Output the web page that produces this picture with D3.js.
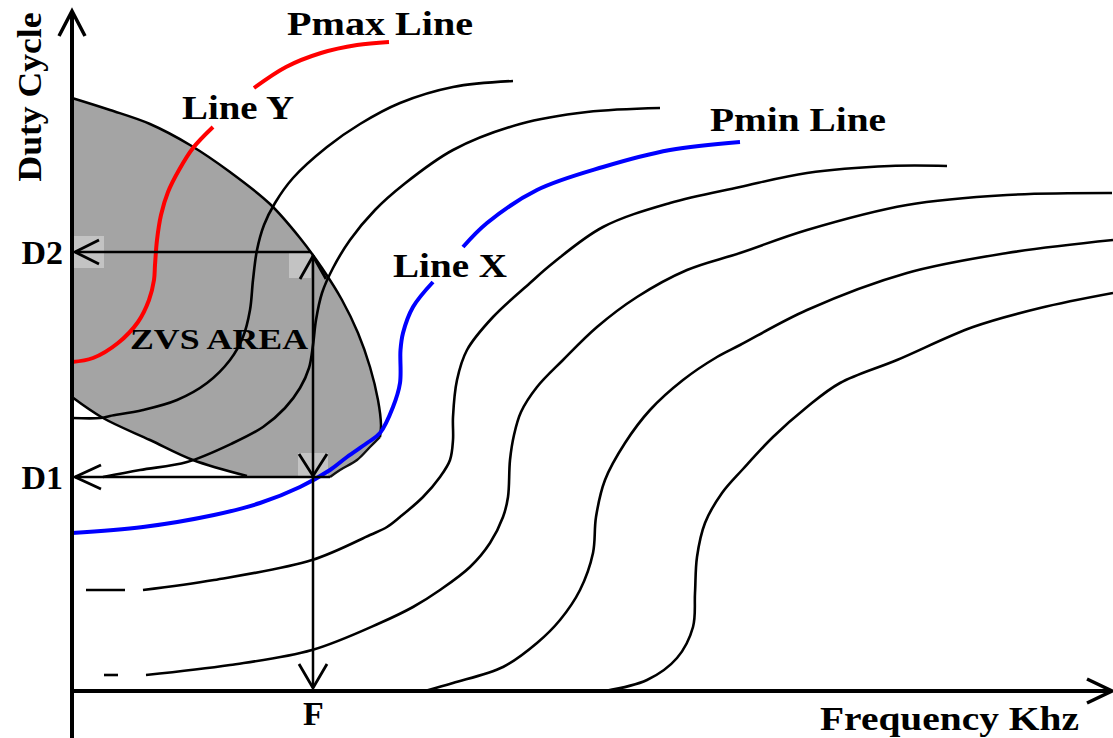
<!DOCTYPE html>
<html><head><meta charset="utf-8">
<script src="https://cdn.jsdelivr.net/npm/d3@7"></script>
<style>
body{margin:0;background:#fff}
svg{display:block}
.lbl{font-family:"Liberation Serif","Times New Roman",serif;font-weight:bold;fill:#000}
</style>
</head><body>
<svg id="c" width="1113" height="738"></svg>
<script>
// ---------- data (frequency units, duty units) ----------
const pmaxLower = [[0,32.9],[2.1,33.3],[4.6,34.8],[6.6,36.9],[7.7,39.1],[8.2,41.1],[8.3,42.6],[8.5,45.1],[8.9,47.6],[9.6,49.9],[10.7,52.1],[12.1,54.3],[14.1,56.4]];
const pmaxUpper = [[18.2,60.3],[21.4,62.4],[24.9,63.8],[28.5,64.6],[31.7,64.9]];

const pminLower = [[0,15.8],[7.1,16.4],[14.2,17.6],[18.8,18.8],[22.8,20.4],[25.8,22.1],[27.5,23.4],[29.5,24.8],[30.8,25.8],[32.1,28.4],[32.8,30.8],[32.85,34.1],[33.1,35.8],[34.1,38.4],[36.1,40.9]];
const pminUpper = [[39.1,44.4],[41.5,46.8],[46.5,50.1],[53.1,52.4],[59.8,54.1],[66.8,54.9]];

const curve1 = [[0,27.3],[2.8,27.3],[3.8,27.5],[7.1,28.1],[10.5,29.1],[13.5,30.8],[15.8,33.1],[17.1,35.4],[17.8,38.1],[18.1,41.1],[18.5,44.1],[19.2,46.6],[20.3,48.8],[22.1,51.3],[25.5,54.4],[28.8,56.7],[32.8,58.8],[38.1,60.4],[44.1,61.0]];
const curve2 = [[3.1,21.4],[6.8,22.1],[11.5,22.9],[16.1,24.8],[19.1,26.4],[21.3,28.3],[22.8,30.3],[23.7,32.3],[24.1,34.6],[24.4,37.1],[25.0,39.8],[26.1,42.3],[27.8,45.1],[30.3,48.1],[33.1,50.6],[38.1,54.1],[44.8,56.7],[51.5,57.9],[58.8,58.3]];
const curve3Stub = [[1.4,10.1],[5.3,10.1]];
const curve3 = [[7.1,10.1],[14.2,11.1],[24.0,13.1],[29.8,15.6],[31.5,16.4],[32.8,17.4],[35.1,19.4],[36.8,21.4],[37.8,23.1],[38.1,25.1],[38.1,27.4],[38.5,31.1],[39.5,34.1],[42.1,37.4],[45.8,40.8],[48.1,42.8],[53.1,46.4],[59.8,48.8],[66.8,50.4],[73.5,51.8],[81.8,52.5],[87.5,52.5]];
const curve4Stub = [[3.2,1.6],[4.6,1.6]];
const curve4 = [[7.4,1.6],[15.8,2.6],[24.0,4.1],[30.8,6.8],[34.1,8.4],[36.8,10.1],[39.8,12.4],[41.8,14.8],[43.1,17.4],[43.6,19.4],[43.8,23.1],[44.2,25.6],[44.9,27.9],[46.5,30.4],[49.1,33.1],[52.5,36.4],[56.5,39.4],[61.5,42.1],[66.8,43.8],[73.5,46.1],[83.5,48.6],[93.5,49.6],[104,49.8]];
const curve5 = [[35.3,0],[38.1,0.8],[43.1,2.4],[46.5,4.8],[48.8,7.1],[50.8,10.1],[52.1,13.8],[52.4,17.4],[53.3,21.1],[55.3,24.8],[57.8,28.1],[61.1,31.1],[64.5,33.4],[66.8,34.6],[73.5,38.1],[83.5,41.8],[93.5,43.8],[104.1,45.1]];
const curve6 = [[53.3,0],[57.5,1.1],[60.5,3.3],[62.1,6.4],[62.3,9.8],[62.5,13.4],[63.3,16.8],[65.0,19.8],[67.1,22.2],[70.1,25.4],[73.5,28.4],[76.8,30.8],[82.5,33.1],[90.1,36.4],[96.8,38.3],[104.1,39.8]];

// ZVS area boundary
const zvsArc = [[0,59.3],[3.8,58.1],[7.8,56.7],[11.8,54.6],[15.8,51.9],[19.8,48.7],[22.8,45.3],[25.0,42.3],[27.0,39.1],[28.6,35.8],[29.8,32.4],[30.6,29.1],[30.9,26.6],[30.8,25.4]];
const zvsCorner = [[29.8,24.4],[28.5,23.1],[26.8,22.1],[25.8,21.4]];
const zvsDiag = [[17.5,21.5],[12.1,23.1],[7.8,25.1],[3.1,27.3],[0,29.4]];
const lightPatches = [[0.2,45.5,3.2,42.3],[21.7,43.8,23.9,41.3],[22.6,23.8,25.6,21.4]];

// operating point
const D1 = 21.4, D2 = 43.9, Fop = 24.1;
const dutyTicks = [D1, D2], dutyLabels = ["D1","D2"];
const freqTicks = [Fop], freqLabels = ["F"];

const labels = [
  {t:"Pmax Line", f:21.5, d:65.6, len:186, fs:34},
  {t:"Line Y",    f:11.0, d:57.2, len:112, fs:34},
  {t:"Pmin Line", f:63.8, d:56.0, len:176, fs:34},
  {t:"Line X",    f:32.1, d:41.4, len:114, fs:34},
  {t:"ZVS AREA",  f:5.8,  d:34.2, len:178, fs:29},
  {t:"Frequency Khz", f:74.8, d:-3.9, len:259, fs:34}
];

// ---------- drawing ----------
const svg = d3.select("#c");
const x = d3.scaleLinear().domain([0,104.1]).range([72,1113]);
const y = d3.scaleLinear().domain([0,68.1]).range([691,10]);
const smooth = d3.line().x(d=>x(d[0])).y(d=>y(d[1])).curve(d3.curveCatmullRom.alpha(0.5));
const straight = d3.line().x(d=>x(d[0])).y(d=>y(d[1]));

// ZVS fill
const arcD = smooth(zvsArc);
const cornerD = smooth([zvsArc[zvsArc.length-1], ...zvsCorner]).replace(/^M/,"L");
const bottomD = straight([zvsCorner[zvsCorner.length-1], zvsDiag[0]]).replace(/^M/,"L");
const diagD = smooth(zvsDiag).replace(/^M/,"L");
svg.append("path").attr("d", arcD + cornerD + bottomD + diagD + "Z").attr("fill","#a4a4a4").attr("stroke","none");
svg.selectAll("rect.patch").data(lightPatches).join("rect").attr("class","patch")
  .attr("x",d=>x(d[0])).attr("y",d=>y(d[1])).attr("width",d=>x(d[2])-x(d[0])).attr("height",d=>y(d[3])-y(d[1]))
  .attr("fill","#c3c3c3");
svg.append("path").attr("d", arcD).attr("fill","none").attr("stroke","#000").attr("stroke-width",2.5);
svg.append("path").attr("d", smooth([zvsArc[zvsArc.length-1], ...zvsCorner])).attr("fill","none").attr("stroke","#111").attr("stroke-width",2.4);
svg.append("path").attr("d", smooth(zvsDiag)).attr("fill","none").attr("stroke","#000").attr("stroke-width",2.5);

// black constant-power curves
[curve1, curve2, curve3, curve4, curve5, curve6, curve3Stub, curve4Stub].forEach(c=>{
  svg.append("path").attr("d", smooth(c)).attr("fill","none").attr("stroke","#000").attr("stroke-width",2.6).attr("stroke-linecap","butt");
});
// red & blue
[pmaxLower, pmaxUpper].forEach(c=>svg.append("path").attr("d", smooth(c)).attr("fill","none").attr("stroke","#ff0000").attr("stroke-width",4));
[pminLower, pminUpper].forEach(c=>svg.append("path").attr("d", smooth(c)).attr("fill","none").attr("stroke","#0000ff").attr("stroke-width",4));

// arrows
function head(tx, ty, dir, L, W, sw){
  let p;
  if(dir==="left") p=[[tx+L,ty-W],[tx,ty],[tx+L,ty+W]];
  if(dir==="right") p=[[tx-L,ty-W],[tx,ty],[tx-L,ty+W]];
  if(dir==="up") p=[[tx-W,ty+L],[tx,ty],[tx+W,ty+L]];
  if(dir==="down") p=[[tx-W,ty-L],[tx,ty],[tx+W,ty-L]];
  svg.append("path").attr("d", d3.line()(p)).attr("fill","none").attr("stroke","#000").attr("stroke-width",sw).attr("stroke-linejoin","miter");
}
// D2 arrow
svg.append("line").attr("x1",x(23.9)).attr("x2",x(0.3)).attr("y1",y(D2)).attr("y2",y(D2)).attr("stroke","#000").attr("stroke-width",2.5);
head(x(0.3), y(D2), "left", 24, 12, 2.8);
// D1 arrow
svg.append("line").attr("x1",x(25.8)).attr("x2",x(0.3)).attr("y1",y(D1)).attr("y2",y(D1)).attr("stroke","#000").attr("stroke-width",2.5);
head(x(0.3), y(D1), "left", 26, 12, 2.8);
// F vertical
svg.append("line").attr("x1",x(Fop)).attr("x2",x(Fop)).attr("y1",y(D2-0.3)).attr("y2",y(0.3)).attr("stroke","#000").attr("stroke-width",2.5);
head(x(Fop), y(D2-0.4), "up", 23, 13, 2.8);
head(x(Fop), y(D1+0.1), "down", 22, 14, 2.8);
head(x(Fop), y(0.3), "down", 24, 14, 2.8);

// axes lines
svg.append("line").attr("x1",x(0)).attr("x2",x(0)).attr("y1",y(-4.8)).attr("y2",y(67.8)).attr("stroke","#000").attr("stroke-width",4);
svg.append("line").attr("x1",x(0)).attr("x2",x(103.8)).attr("y1",y(0)).attr("y2",y(0)).attr("stroke","#000").attr("stroke-width",4);
head(x(0), y(68.0), "up", 25, 13, 3.5);
head(x(104.0), y(0), "right", 25, 12, 3.5);

// tick labels via axes
const ya = svg.append("g").attr("transform",`translate(${x(0)},0)`)
  .call(d3.axisLeft(y).tickValues(dutyTicks).tickFormat((d,i)=>dutyLabels[i]).tickSize(0).tickPadding(9));
ya.select(".domain").remove();
ya.selectAll("text").attr("class","lbl").attr("font-size",34).attr("dy","0.34em");
const xa = svg.append("g").attr("transform",`translate(0,${y(0)})`)
  .call(d3.axisBottom(x).tickValues(freqTicks).tickFormat((d,i)=>freqLabels[i]).tickSize(0).tickPadding(10));
xa.select(".domain").remove();
xa.selectAll("text").attr("class","lbl").attr("font-size",34);
[ya, xa].forEach(g=>g.attr("font-family",null).attr("font-size",null));

// labels
svg.selectAll("text.free").data(labels).join("text").attr("class","lbl free")
  .attr("x",d=>x(d.f)).attr("y",d=>y(d.d)).attr("font-size",d=>d.fs)
  .attr("textLength",d=>d.len).attr("lengthAdjust","spacingAndGlyphs").text(d=>d.t);

// y axis title
svg.append("text").attr("class","lbl").attr("font-size",34)
  .attr("transform",`translate(${x(-3.1)},${y(59.4)}) rotate(-90)`)
  .attr("text-anchor","middle").attr("textLength",169).attr("lengthAdjust","spacingAndGlyphs").text("Duty Cycle");
</script>
</body></html>
